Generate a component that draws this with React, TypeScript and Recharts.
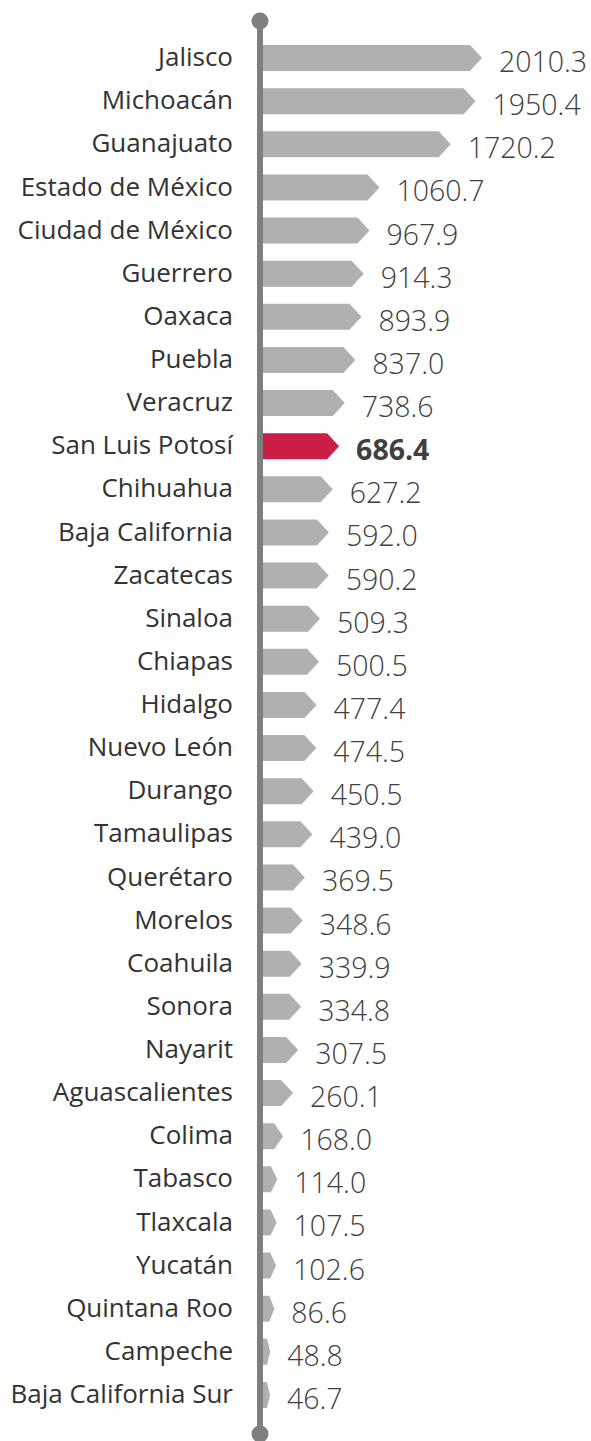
import { Bar, BarChart, LabelList, ReferenceLine, XAxis, YAxis } from "recharts";

const states = [
  "Jalisco",
  "Michoacán",
  "Guanajuato",
  "Estado de México",
  "Ciudad de México",
  "Guerrero",
  "Oaxaca",
  "Puebla",
  "Veracruz",
  "San Luis Potosí",
  "Chihuahua",
  "Baja California",
  "Zacatecas",
  "Sinaloa",
  "Chiapas",
  "Hidalgo",
  "Nuevo León",
  "Durango",
  "Tamaulipas",
  "Querétaro",
  "Morelos",
  "Coahuila",
  "Sonora",
  "Nayarit",
  "Aguascalientes",
  "Colima",
  "Tabasco",
  "Tlaxcala",
  "Yucatán",
  "Quintana Roo",
  "Campeche",
  "Baja California Sur",
];

const values = [
  2010.3, 1950.4, 1720.2, 1060.7, 967.9, 914.3, 893.9, 837.0, 738.6, 686.4,
  627.2, 592.0, 590.2, 509.3, 500.5, 477.4, 474.5, 450.5, 439.0, 369.5, 348.6,
  339.9, 334.8, 307.5, 260.1, 168.0, 114.0, 107.5, 102.6, 86.6, 48.8, 46.7,
];

const highlight = "San Luis Potosí";

const data = states.map((state, i) => ({ state, value: values[i] }));

const FONT = "'Open Sans', 'Noto Sans', sans-serif";

function ArrowBar(props: any) {
  const { x, y, width, height, payload } = props;
  const x0 = x - 2;
  const end = x + width;
  const w = end - x0;
  const d = Math.min(12, w * 0.45);
  const fill = payload.state === highlight ? "#cc1f47" : "#b0b0b0";
  const path = `M${x0},${y} L${end - d},${y} L${end},${y + height / 2} L${end - d},${y + height} L${x0},${y + height} Z`;
  return <path d={path} fill={fill} />;
}

function StateTick(props: any) {
  const { x, y, payload } = props;
  return (
    <text
      x={x}
      y={y}
      dy="0.33em"
      textAnchor="end"
      fill="#333333"
      fontSize={26}
      fontFamily={FONT}
    >
      {payload.value}
    </text>
  );
}

function ValueLabel(props: any) {
  const { x, y, width, height, value, index } = props;
  const bold = states[index] === highlight;
  return (
    <text
      x={x + width + 17}
      y={y + height / 2}
      dy={14}
      fill="#404040"
      fontSize={28.5}
      fontWeight={bold ? 700 : 300}
      fontFamily={FONT}
    >
      {Number(value).toFixed(1)}
    </text>
  );
}

// stem of the category axis, drawn past the plot area with a dot at each end
function AxisStem(props: any) {
  const { x1 } = props;
  const cx = x1 - 5;
  const top = 21;
  const bottom = 1434;
  return (
    <g>
      <line x1={cx} x2={cx} y1={top} y2={bottom} stroke="#7f7f7f" strokeWidth={6} />
      <circle cx={cx} cy={top} r={8.5} fill="#7f7f7f" />
      <circle cx={cx} cy={bottom} r={8.5} fill="#7f7f7f" />
    </g>
  );
}

export default function App() {
  return (
    <div style={{ position: "absolute", left: 0, top: 0, background: "#fff" }}>
      <BarChart
        width={591}
        height={1441}
        data={data}
        layout="vertical"
        margin={{ top: 36, right: 0, bottom: 25, left: 0 }}
      >
        <XAxis type="number" hide domain={[0, 3020]} />
        <YAxis
          type="category"
          dataKey="state"
          width={265}
          axisLine={false}
          tickLine={false}
          tickSize={0}
          tickMargin={32}
          interval={0}
          tick={<StateTick />}
        />
        <Bar dataKey="value" barSize={26} shape={<ArrowBar />} isAnimationActive={false}>
          <LabelList dataKey="value" content={<ValueLabel />} />
        </Bar>
        <ReferenceLine x={0} shape={<AxisStem />} ifOverflow="visible" />
      </BarChart>
    </div>
  );
}
